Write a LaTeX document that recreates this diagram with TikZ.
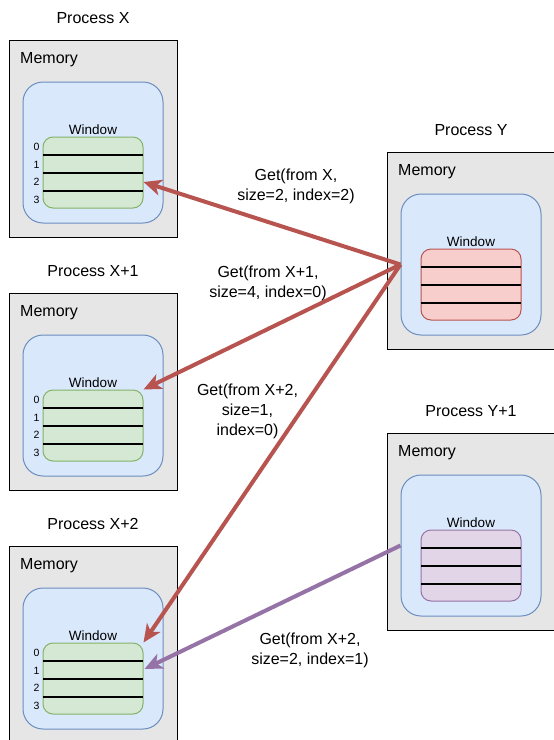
\documentclass[tikz,border=0pt]{standalone}
\usepackage{fontspec}
\setmainfont{Liberation Sans}
\usetikzlibrary{arrows.meta}

\definecolor{boxfill}{HTML}{E6E6E6}
\definecolor{memfill}{HTML}{DAE8FC}
\definecolor{memline}{HTML}{6C8EBF}
\definecolor{grnfill}{HTML}{D5E8D4}
\definecolor{grnline}{HTML}{82B366}
\definecolor{redfill}{HTML}{F8CECC}
\definecolor{redline}{HTML}{B85450}
\definecolor{purfill}{HTML}{E1D5E7}
\definecolor{purline}{HTML}{9673A6}

% one process: outer box, memory area, window with rows
\newcommand{\procblock}[6]{%
  \begin{scope}[shift={(#2,#3)}]
    \node[outerbox] (#1box) at (84,98.5) {};
    \node[plabel] (#1lbl) at (84,-22) {#4};
    \node[memlabel] (#1memtxt) at (11,20) {Memory};
    \node[membox] (#1mem) at (84,112.5) {};
    \node[winlabel] (#1wintxt) at (84,90) {Window};
    \node[winbox,#5] (#1win) at (84,132.5) {};
    \foreach \r in {115,133,151} \draw[rowline] (34,\r) -- (134,\r);
    #6
  \end{scope}}

\newcommand{\rownumbers}[1]{%
  \foreach \n/\yy in {0/107,1/125,2/142,3/160}
    \node[rownum] (#1num\n) at (27.5,\yy) {\n};}

\begin{document}
\begin{tikzpicture}[x=1pt,y=-1pt,
  outerbox/.style={draw=black,line width=1pt,fill=boxfill,minimum width=168pt,minimum height=197pt,inner sep=0pt},
  plabel/.style={font=\fontsize{16}{19.5}\selectfont,inner sep=0pt},
  memlabel/.style={font=\fontsize{16}{19.5}\selectfont,anchor=west,inner sep=0pt},
  membox/.style={draw=memline,line width=1pt,fill=memfill,rounded corners=20pt,minimum width=140pt,minimum height=141pt,inner sep=0pt},
  winlabel/.style={font=\fontsize{13.5}{16}\selectfont,inner sep=0pt},
  winbox/.style={line width=1pt,rounded corners=10pt,minimum width=100pt,minimum height=71pt,inner sep=0pt},
  greenwin/.style={draw=grnline,fill=grnfill},
  redwin/.style={draw=redline,fill=redfill},
  purplewin/.style={draw=purline,fill=purfill},
  rowline/.style={draw=black,line width=1.4pt},
  rownum/.style={font=\fontsize{10.5}{12}\selectfont,inner sep=0pt},
  getarrow/.style={line width=4pt,-{Stealth[length=18pt,width=16pt,inset=5pt]}},
  getlabel/.style={font=\fontsize{16}{20}\selectfont,align=center,inner sep=0pt}
]
\clip (0,0) rectangle (554,740);
\fill[white] (0,0) rectangle (554,740);

% the three target processes on the left
\procblock{px}{9}{40}{Process X}{greenwin}{\rownumbers{px}}
\procblock{pxa}{9}{293}{Process X+1}{greenwin}{\rownumbers{pxa}}
\procblock{pxb}{9}{546}{Process X+2}{greenwin}{\rownumbers{pxb}}

% the two requesting processes on the right
\procblock{py}{387}{152}{Process Y}{redwin}{}
\procblock{pya}{387}{433}{Process Y+1}{purplewin}{}

% arrow ends on the window rows
\coordinate (pxrow2) at ([yshift=-9.5pt]pxwin.east);
\coordinate (pxbrow1) at ([yshift=9.5pt,xshift=1pt]pxbwin.east);

% get operations
\draw[getarrow,redline] (pymem.west) -- (pxrow2);
\draw[getarrow,redline] (pymem.west) -- (pxawin.north east);
\draw[getarrow,redline] (pymem.west) -- (pxbwin.north east);
\draw[getarrow,purline] (pyamem.west) -- (pxbrow1);

\node[getlabel] (g1) at (296,186.5) {Get(from X,\\size=2, index=2)};
\node[getlabel] (g2) at (268,283) {Get(from X+1,\\size=4, index=0)};
\node[getlabel] (g3) at (247.5,411) {Get(from X+2,\\size=1,\\index=0)};
\node[getlabel] (g4) at (310,650) {Get(from X+2,\\size=2, index=1)};
\end{tikzpicture}
\end{document}
